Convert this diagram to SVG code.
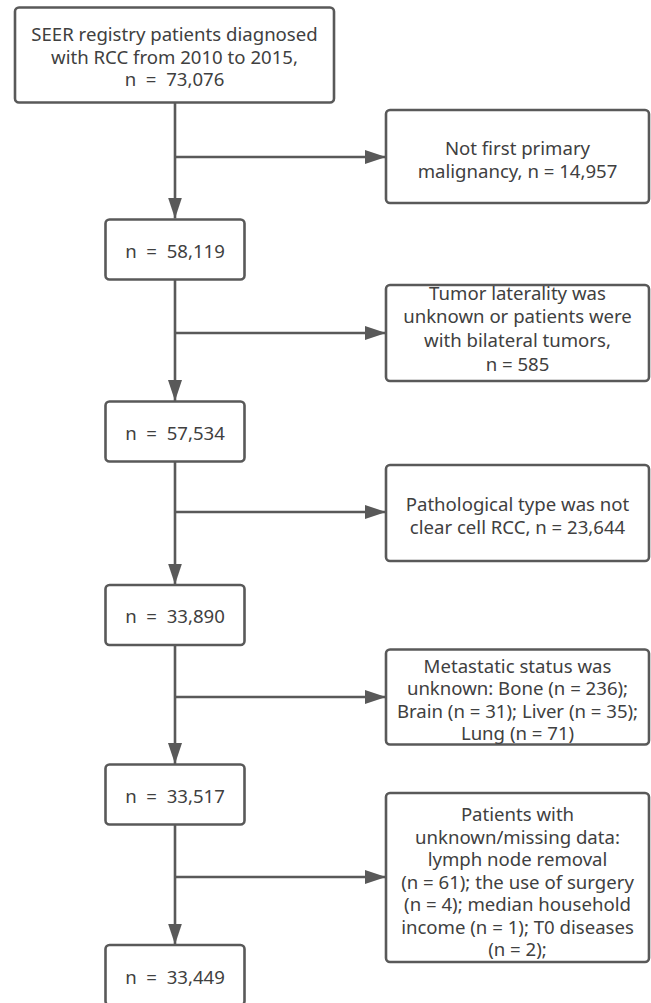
<svg xmlns="http://www.w3.org/2000/svg" width="651" height="1003" viewBox="0 0 651 1003">
<style>
.box{fill:#ffffff;stroke:#595959;stroke-width:2.6}
.t{font-family:"Noto Sans","Open Sans",sans-serif;font-size:18.6px;fill:#404040;text-anchor:middle}
.ln{stroke:#595959;stroke-width:2.6;fill:none;marker-end:url(#ah)}
</style>
<defs>
<marker id="ah" markerUnits="userSpaceOnUse" markerWidth="22" markerHeight="15" refX="21" refY="7.5" orient="auto">
<path d="M0,0.5 L21,7.5 L0,14.5 z" fill="#595959"/>
</marker>
</defs>
<rect width="651" height="1003" fill="#ffffff"/>
<g id="connectors">
<line class="ln" x1="175" y1="102" x2="175" y2="218.5"/>
<line class="ln" x1="175" y1="279.5" x2="175" y2="401"/>
<line class="ln" x1="175" y1="461" x2="175" y2="584.5"/>
<line class="ln" x1="175" y1="644.5" x2="175" y2="764"/>
<line class="ln" x1="175" y1="824.5" x2="175" y2="944.5"/>
<line class="ln" x1="175" y1="157" x2="386" y2="157"/>
<line class="ln" x1="175" y1="333" x2="386" y2="333"/>
<line class="ln" x1="175" y1="512" x2="386" y2="512"/>
<line class="ln" x1="175" y1="697" x2="386" y2="697"/>
<line class="ln" x1="175" y1="877" x2="386" y2="877"/>
</g>
<g id="n0">
<rect class="box" x="15" y="7.5" width="319" height="95" rx="4"/>
<text class="t" x="174.5" y="41">SEER registry patients diagnosed</text>
<text class="t" x="174.5" y="63.5">with RCC from 2010 to 2015,</text>
<text class="t" x="174.5" y="86" xml:space="preserve">n  =  73,076</text>
</g>
<g id="x1">
<rect class="box" x="386" y="110" width="263" height="93" rx="4"/>
<text class="t" x="517.5" y="155">Not first primary</text>
<text class="t" x="517.5" y="177.5">malignancy, n = 14,957</text>
</g>
<g id="n1">
<rect class="box" x="105.5" y="219.5" width="139" height="60" rx="4"/>
<text class="t" x="175" y="258" xml:space="preserve">n  =  58,119</text>
</g>
<g id="x2">
<rect class="box" x="386" y="285" width="263" height="96" rx="4"/>
<text class="t" x="517.5" y="300">Tumor laterality was</text>
<text class="t" x="517.5" y="323">unknown or patients were</text>
<text class="t" x="517.5" y="347">with bilateral tumors,</text>
<text class="t" x="517.5" y="371">n = 585</text>
</g>
<g id="n2">
<rect class="box" x="105.5" y="401.5" width="139" height="60" rx="4"/>
<text class="t" x="175" y="440" xml:space="preserve">n  =  57,534</text>
</g>
<g id="x3">
<rect class="box" x="386" y="465" width="263" height="96" rx="4"/>
<text class="t" x="517.5" y="511">Pathological type was not</text>
<text class="t" x="517.5" y="534">clear cell RCC, n = 23,644</text>
</g>
<g id="n3">
<rect class="box" x="105.5" y="585" width="139" height="60" rx="4"/>
<text class="t" x="175" y="623" xml:space="preserve">n  =  33,890</text>
</g>
<g id="x4">
<rect class="box" x="386" y="649.5" width="263" height="95" rx="4"/>
<text class="t" x="517.5" y="672.5">Metastatic status was</text>
<text class="t" x="517.5" y="695">unknown: Bone (n = 236);</text>
<text class="t" x="517.5" y="717.5">Brain (n = 31); Liver (n = 35);</text>
<text class="t" x="517.5" y="740">Lung (n = 71)</text>
</g>
<g id="n4">
<rect class="box" x="105.5" y="764.5" width="139" height="60" rx="4"/>
<text class="t" x="175" y="803" xml:space="preserve">n  =  33,517</text>
</g>
<g id="x5">
<rect class="box" x="386" y="793" width="263" height="169" rx="4"/>
<text class="t" x="517.5" y="821">Patients with</text>
<text class="t" x="517.5" y="843.5">unknown/missing data:</text>
<text class="t" x="517.5" y="866">lymph node removal</text>
<text class="t" x="517.5" y="888.5">(n = 61); the use of surgery</text>
<text class="t" x="517.5" y="911">(n = 4); median household</text>
<text class="t" x="517.5" y="933.5">income (n = 1); T0 diseases</text>
<text class="t" x="517.5" y="956">(n = 2);</text>
</g>
<g id="n5">
<rect class="box" x="105.5" y="945" width="139" height="60" rx="4"/>
<text class="t" x="175" y="984" xml:space="preserve">n  =  33,449</text>
</g>
</svg>
